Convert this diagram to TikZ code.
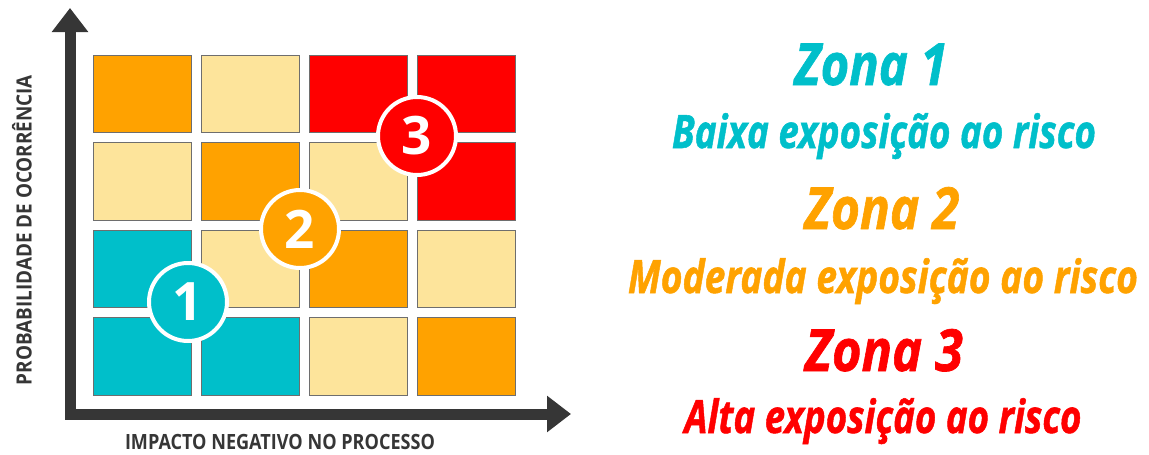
\documentclass[tikz,border=0pt]{standalone}
\usepackage{fontspec}
\setmainfont{Open Sans}[BoldItalicFeatures={FakeBold=1.2}]
\usepackage{graphicx}
\usetikzlibrary{arrows.meta}
\definecolor{teal1}{HTML}{00BFCA}
\definecolor{orng}{HTML}{FFA200}
\definecolor{lite}{HTML}{FDE49B}
\definecolor{redd}{HTML}{FF0000}
\definecolor{axisc}{HTML}{363636}
\definecolor{cellb}{HTML}{6E6E6E}
\newcommand{\fitw}[2]{\resizebox{#1}{\height}{#2}}
\tikzset{
  cell/.style={draw=cellb, line width=1pt, minimum width=98pt, minimum height=77.5pt, inner sep=0pt},
  zcirc/.style={circle, draw=white, line width=4pt, minimum size=78pt, inner sep=0pt, text=white, font=\fontsize{53}{53}\selectfont\bfseries},
  axisline/.style={draw=axisc, line width=11pt, line join=miter},
  axlabel/.style={text=axisc, font=\fontsize{21}{21}\selectfont\bfseries, inner sep=0pt},
  zonetitle/.style={anchor=base, inner sep=0pt, font=\fontsize{58}{58}\selectfont\bfseries\itshape},
  zonesub/.style={anchor=base, inner sep=0pt, font=\fontsize{46}{46}\selectfont\bfseries\itshape},
}
\begin{document}
\begin{tikzpicture}[x=1pt, y=-1pt]
\useasboundingbox (0,0) rectangle (1149,455);
% grid
\node[cell, fill=orng] (c11) at (142.5,93.75) {};
\node[cell, fill=lite] (c12) at (250.5,93.75) {};
\node[cell, fill=redd] (c13) at (358.5,93.75) {};
\node[cell, fill=redd] (c14) at (466.5,93.75) {};
\node[cell, fill=lite] (c21) at (142.5,181.25) {};
\node[cell, fill=orng] (c22) at (250.5,181.25) {};
\node[cell, fill=lite] (c23) at (358.5,181.25) {};
\node[cell, fill=redd] (c24) at (466.5,181.25) {};
\node[cell, fill=teal1] (c31) at (142.5,268.75) {};
\node[cell, fill=lite] (c32) at (250.5,268.75) {};
\node[cell, fill=orng] (c33) at (358.5,268.75) {};
\node[cell, fill=lite] (c34) at (466.5,268.75) {};
\node[cell, fill=teal1] (c41) at (142.5,356.25) {};
\node[cell, fill=teal1] (c42) at (250.5,356.25) {};
\node[cell, fill=lite] (c43) at (358.5,356.25) {};
\node[cell, fill=orng] (c44) at (466.5,356.25) {};
% zone circles
\node[zcirc, fill=teal1] (z1) at (188,302) {1};
\node[zcirc, fill=orng] (z2) at (300,229) {2};
\node[zcirc, fill=redd] (z3) at (417,136) {3};
% axes
\coordinate (ytip) at (70,8);
\coordinate (origin) at (70,414);
\coordinate (xtip) at (571,414);
\draw[axisline, {Triangle[width=35pt,length=24pt]}-{Triangle[width=35pt,length=24pt]}] (ytip) -- (origin) -- (xtip);
% axis labels
\node[axlabel, rotate=90] (ylab) at (22,230) {\fitw{310pt}{PROBABILIDADE DE OCORRÊNCIA}};
\node[axlabel] (xlab) at (280,442) {\fitw{310pt}{IMPACTO NEGATIVO NO PROCESSO}};
% zone legend
\node[zonetitle, text=teal1] (t1) at (871,85) {\fitw{153pt}{Zona 1}};
\node[zonesub, text=teal1] (s1) at (884,148) {\fitw{424pt}{Baixa exposição ao risco}};
\node[zonetitle, text=orng] (t2) at (882,229) {\fitw{155pt}{Zona 2}};
\node[zonesub, text=orng] (s2) at (883,293) {\fitw{510pt}{Moderada exposição ao risco}};
\node[zonetitle, text=redd] (t3) at (884,371) {\fitw{158pt}{Zona 3}};
\node[zonesub, text=redd] (s3) at (883,433) {\fitw{397pt}{Alta exposição ao risco}};
\end{tikzpicture}
\end{document}
